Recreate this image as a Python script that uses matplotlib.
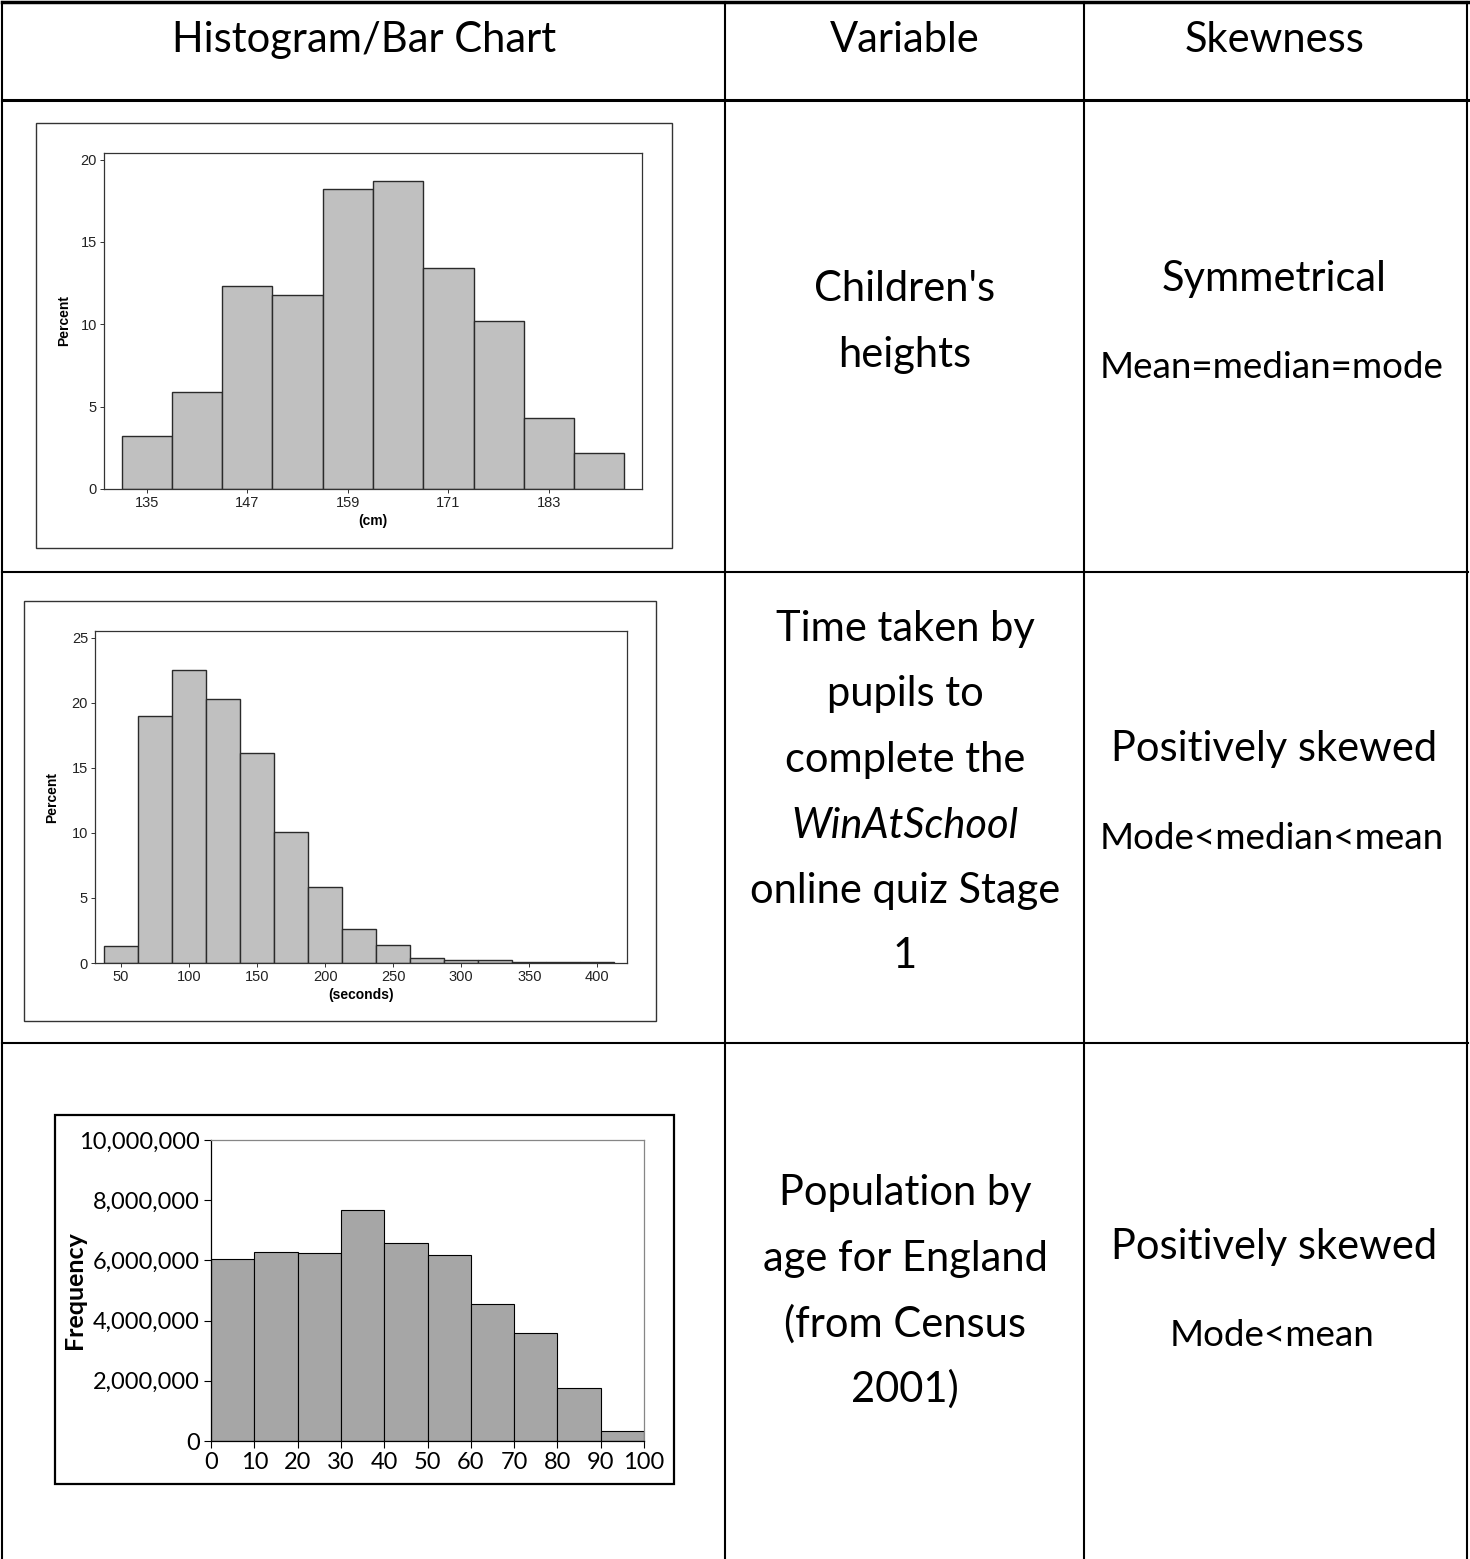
import numpy as np
import matplotlib.pyplot as plt
from matplotlib.lines import Line2D
from matplotlib.patches import Rectangle
from matplotlib.ticker import FuncFormatter

# ── Data ────────────────────────────────────────────────────────────────────
height_centres = [135, 141, 147, 153, 159, 165, 171, 177, 183, 189]
height_pct = [3.2, 5.9, 12.3, 11.8, 18.2, 18.7, 13.4, 10.2, 4.3, 2.2]

time_centres = [50, 75, 100, 125, 150, 175, 200, 225, 250, 275, 300, 325, 350, 375, 400]
time_pct = [1.3, 19.0, 22.5, 20.3, 16.1, 10.1, 5.8, 2.6, 1.35, 0.35, 0.2, 0.2, 0.1, 0.05, 0.05]

age_edges = [0, 10, 20, 30, 40, 50, 60, 70, 80, 90]
age_freq = [6050000, 6270000, 6230000, 7680000, 6570000, 6180000, 4550000, 3600000, 1750000, 330000]

headers = ["Histogram/Bar Chart", "Variable", "Skewness"]
skew_main = ["Symmetrical", "Positively skewed", "Positively skewed"]
skew_sub = ["Mean=median=mode", "Mode<median<mean", "Mode<mean"]

# ── Figure ──────────────────────────────────────────────────────────────────
W, H = 1470, 1559
fig = plt.figure(figsize=(W / 100, H / 100), dpi=100)

TFONT = ['Lato', 'DejaVu Sans']
NARROW = ['Liberation Sans Narrow', 'Liberation Sans', 'DejaVu Sans']
ARIAL = ['Liberation Sans', 'DejaVu Sans']


def fx(x):
    return x / W


def fy(y):
    return 1 - y / H


def hline(x0, x1, y, lw=1.5):
    fig.add_artist(Line2D([fx(x0), fx(x1)], [fy(y), fy(y)], color='black', lw=lw,
                          transform=fig.transFigure))


def vline(x, y0, y1, lw=1.5):
    fig.add_artist(Line2D([fx(x), fx(x)], [fy(y0), fy(y1)], color='black', lw=lw,
                          transform=fig.transFigure))


def box(x0, y0, x1, y1, color='black', lw=1.0):
    fig.add_artist(Rectangle((fx(x0), fy(y1)), fx(x1) - fx(x0), fy(y0) - fy(y1),
                             fill=False, edgecolor=color, lw=lw, transform=fig.transFigure))


def add_axes_px(left, top, right, bottom):
    return fig.add_axes([fx(left), fy(bottom), fx(right) - fx(left), fy(top) - fy(bottom)])


def txt(x, y, s, size, **kw):
    fig.text(fx(x), fy(y), s, fontsize=size, ha='center', va='center', family=TFONT, **kw)


# ── Table grid ──────────────────────────────────────────────────────────────
hline(2, 1468, 2, lw=2.5)
hline(2, 1468, 100, lw=2.2)
hline(2, 1468, 572, lw=1.5)
hline(2, 1468, 1043, lw=1.5)
for xv in [2, 725, 1084, 1467]:
    vline(xv, 2, 1559, lw=1.5)

# ── Text cells ──────────────────────────────────────────────────────────────
BIG, SMALL = 30, 26.5
for xc, s in zip([364, 905, 1275], headers):
    txt(xc, 40, s, BIG)

var_lines = [
    (289, [("Children's", 'normal'), ("heights", 'normal')]),
    (629, [("Time taken by", 'normal'), ("pupils to", 'normal'), ("complete the", 'normal'),
           ("WinAtSchool", 'italic'), ("online quiz Stage", 'normal'), ("1", 'normal')]),
    (1193, [("Population by", 'normal'), ("age for England", 'normal'),
            ("(from Census", 'normal'), ("2001)", 'normal')]),
]
for y0, lines in var_lines:
    for i, (s, st) in enumerate(lines):
        txt(905, y0 + i * 65.5, s, BIG, style=st)

for (ym, ys), a, b in zip([(279, 368), (749, 838), (1247, 1335)], skew_main, skew_sub):
    txt(1274, ym, a, BIG)
    txt(1272, ys, b, SMALL)

# ── Chart 1: heights ────────────────────────────────────────────────────────
box(36, 123, 672, 548, color='#333333', lw=1.0)
ax1 = add_axes_px(104, 153, 642, 489)
ax1.bar(height_centres, height_pct, width=6, color='#c0c0c0', edgecolor='#2a2a2a', lw=1.0)
ax1.set_xlim(129.9, 194.1)
ax1.set_ylim(0, 20.4)
ax1.set_xticks([135, 147, 159, 171, 183])
ax1.set_yticks([0, 5, 10, 15, 20])
ax1.set_xlabel('(cm)', fontsize=10, fontweight='bold', family=ARIAL, labelpad=3)
ax1.set_ylabel('Percent', fontsize=10, fontweight='bold', family=ARIAL)
ax1.yaxis.set_label_coords(-0.061, 0.5)

# ── Chart 2: times ──────────────────────────────────────────────────────────
box(24, 601, 656, 1021, color='#333333', lw=1.0)
ax2 = add_axes_px(95, 631, 627, 963)
ax2.bar(time_centres, time_pct, width=25, color='#c0c0c0', edgecolor='#2a2a2a', lw=1.0)
ax2.set_xlim(30.8, 421.8)
ax2.set_ylim(0, 25.5)
ax2.set_xticks(np.arange(50, 401, 50))
ax2.set_yticks([0, 5, 10, 15, 20, 25])
ax2.set_xlabel('(seconds)', fontsize=10, fontweight='bold', family=ARIAL, labelpad=3)
ax2.set_ylabel('Percent', fontsize=10, fontweight='bold', family=ARIAL)
ax2.yaxis.set_label_coords(-0.068, 0.5)

for ax in (ax1, ax2):
    for sp in ax.spines.values():
        sp.set_color('#333333')
        sp.set_linewidth(0.9)
    ax.tick_params(direction='out', length=3, width=0.7, color='#333333',
                   labelsize=10.5, labelcolor='#222222', pad=2)
    for lab in ax.get_xticklabels() + ax.get_yticklabels():
        lab.set_family(NARROW)

# ── Chart 3: population ─────────────────────────────────────────────────────
box(55, 1115, 674, 1484, color='black', lw=1.6)
ax3 = add_axes_px(211, 1140, 644, 1441)
ax3.bar(age_edges, age_freq, width=10, align='edge', color='#a6a6a6',
        edgecolor='black', lw=0.8)
ax3.set_xlim(0, 100)
ax3.set_ylim(0, 10000000)
ax3.set_xticks(np.arange(0, 101, 10))
ax3.set_yticks(np.arange(0, 10000001, 2000000))
ax3.yaxis.set_major_formatter(FuncFormatter(lambda v, p: f'{int(v):,}'))
ax3.tick_params(direction='out', length=5, width=0.8, labelsize=17, pad=3)
for lab in ax3.get_xticklabels() + ax3.get_yticklabels():
    lab.set_family(['Lato', 'DejaVu Sans'])
ax3.set_ylabel('Frequency', fontsize=18, fontweight='bold', family=['Lato', 'DejaVu Sans'])
ax3.yaxis.set_label_coords(-0.289, 0.5)
ax3.spines['top'].set_color('#868686')
ax3.spines['right'].set_color('#868686')
for sp in ax3.spines.values():
    sp.set_linewidth(0.9)

fig.savefig('out.png', dpi=100)
